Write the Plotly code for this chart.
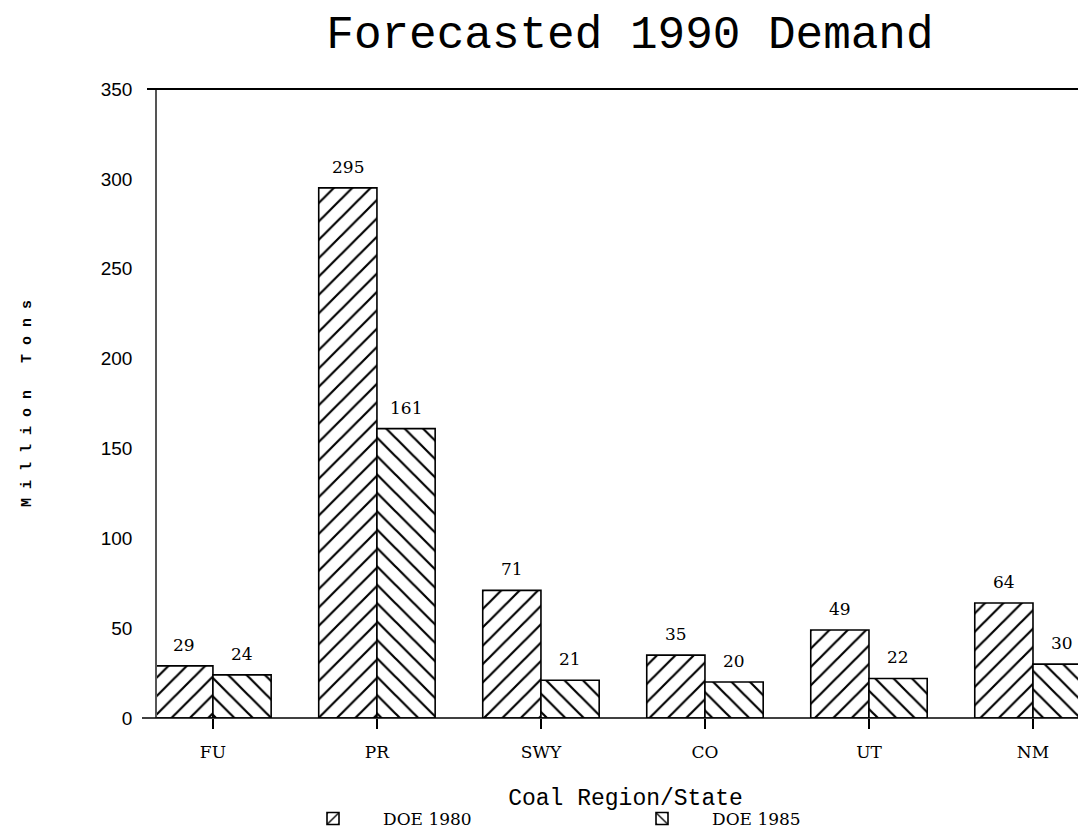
import plotly.graph_objects as go

categories = ["FU", "PR", "SWY", "CO", "UT", "NM"]
doe_1980 = [29, 295, 71, 35, 49, 64]
doe_1985 = [24, 161, 21, 20, 22, 30]
series_names = ["DOE 1980", "DOE 1985"]
y_ticks = [0, 50, 100, 150, 200, 250, 300, 350]

W, H = 1086, 829
ML, MR, MT, MB = 149, 0, 81, 118
PW = W - ML - MR

fig = go.Figure()
fig.add_trace(go.Bar(
    x=categories, y=doe_1980, name=series_names[0],
    marker=dict(color="white", line=dict(color="black", width=1.6),
                pattern=dict(shape="/", size=13, solidity=0.17, fgcolor="black",
                             fgopacity=1, bgcolor="white")),
))
fig.add_trace(go.Bar(
    x=categories, y=doe_1985, name=series_names[1],
    marker=dict(color="white", line=dict(color="black", width=1.6),
                pattern=dict(shape="\\", size=13, solidity=0.17, fgcolor="black",
                             fgopacity=1, bgcolor="white")),
))

bargap = 0.29
half = (1 - bargap) / 4
annotations = []
for i, c in enumerate(categories):
    for vals, off in ((doe_1980, -half), (doe_1985, half)):
        annotations.append(dict(
            x=i + off, y=vals[i], xref="x", yref="y", text=str(vals[i]),
            showarrow=False, yshift=21, yanchor="middle",
            font=dict(family="DejaVu Serif", size=17, color="black"),
        ))

fig.update_layout(
    width=W, height=H,
    margin=dict(l=ML, r=MR, t=MT, b=MB),
    paper_bgcolor="white", plot_bgcolor="white",
    barmode="group", bargap=bargap, bargroupgap=0,
    title=dict(text="Forecasted 1990 Demand", x=0.5727, xanchor="center", y=0.971, yanchor="middle",
               font=dict(family="Liberation Mono", size=46, color="black")),
    xaxis=dict(
        range=[-0.341, 5.372], showgrid=False, zeroline=False, showline=False,
        ticks="outside", ticklen=10, tickwidth=1.5, tickcolor="black",
        ticklabelstandoff=9,
        tickfont=dict(family="DejaVu Serif", size=17, color="black"),
        title=dict(text="Coal Region/State", standoff=27,
                   font=dict(family="Liberation Mono", size=23, color="black")),
    ),
    yaxis=dict(
        range=[0, 350], tickvals=y_ticks, showgrid=False, zeroline=False,
        showline=True, linecolor="#555555", linewidth=1.5, ticks="",
        ticklabelstandoff=19,
        tickfont=dict(family="Liberation Sans", size=19, color="black"),
        title=dict(text="M i l l i o n   T o n s", standoff=65,
                   font=dict(family="Liberation Mono", size=15, color="black", weight="bold")),
    ),
    legend=dict(orientation="h", x=(275 - ML) / PW, xanchor="left", y=-0.161, yanchor="middle",
                entrywidth=224, entrywidthmode="pixels", itemwidth=90,
                font=dict(family="DejaVu Serif", size=17, color="black")),
    annotations=annotations,
    shapes=[
        dict(type="line", xref="paper", yref="paper", x0=-10 / PW, x1=1, y0=1, y1=1,
             line=dict(color="black", width=2)),
        dict(type="line", xref="paper", yref="paper", x0=-15 / PW, x1=1, y0=0, y1=0,
             line=dict(color="black", width=1.5)),
    ],
)

fig.write_html("out.html")
